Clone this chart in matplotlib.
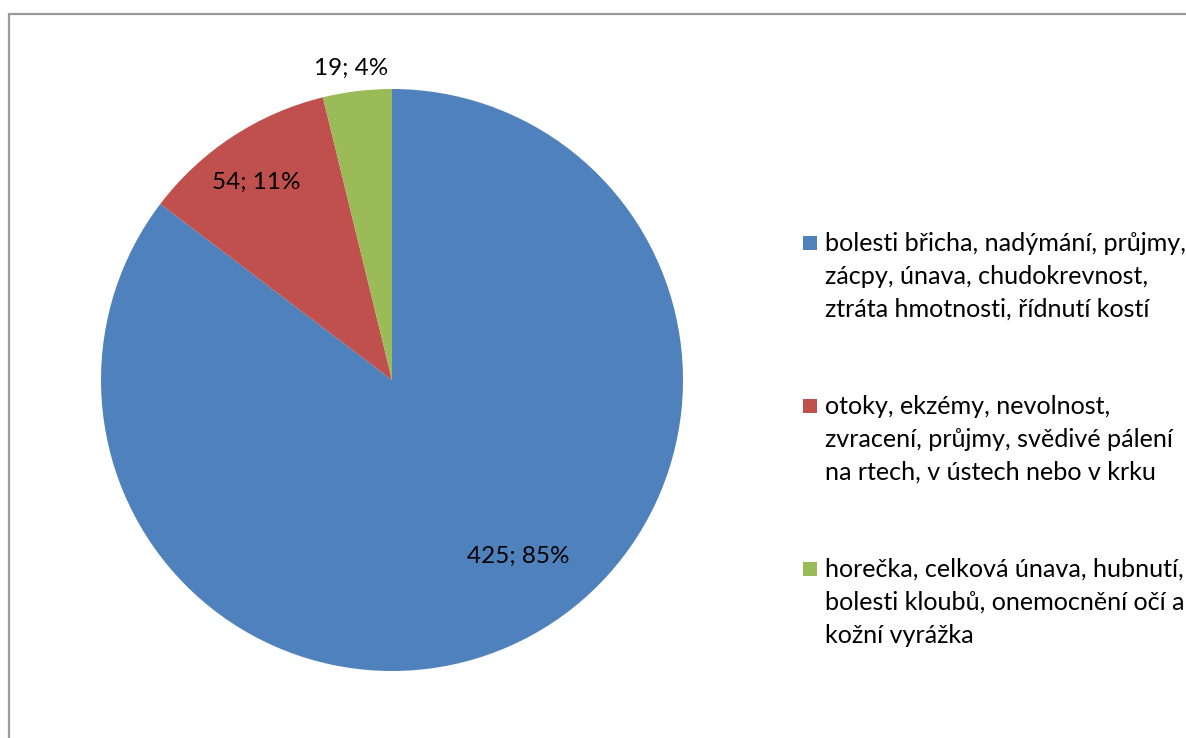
import matplotlib.pyplot as plt
from matplotlib.patches import Rectangle

plt.rcParams['font.family'] = ['Lato', 'DejaVu Sans']

# symptom groups and counts
labels = [
    "bolesti břicha, nadýmání, průjmy,\nzácpy, únava, chudokrevnost,\nztráta hmotnosti, řídnutí kostí",
    "otoky, ekzémy, nevolnost,\nzvracení, průjmy, svědivé pálení\nna rtech, v ústech nebo v krku",
    "horečka, celková únava, hubnutí,\nbolesti kloubů, onemocnění očí a\nkožní vyrážka",
]
counts = [425, 54, 19]
colors = ["#4F81BD", "#C0504D", "#9BBB59"]

# where the value labels sit (data coords, pie radius = 1)
label_pos = [(0.433, -0.605), (-0.467, 0.68), (-0.141, 1.072)]

W, H = 1186, 738
fig = plt.figure(figsize=(W / 100, H / 100), dpi=100)

cx, cy, r = 392, 380, 291
ax = fig.add_axes([(cx - r) / W, (H - cy - r) / H, 2 * r / W, 2 * r / H])
wedges, _ = ax.pie(counts, colors=colors, startangle=90, counterclock=False,
                   radius=1, wedgeprops=dict(linewidth=0))
ax.set_xlim(-1, 1)
ax.set_ylim(-1, 1)
ax.set_aspect('equal')
ax.axis('off')

total = sum(counts)
for c, (x, y) in zip(counts, label_pos):
    ax.text(x, y, "%d; %d%%" % (c, round(100.0 * c / total)),
            ha='center', va='center', fontsize=17.5, color='black', clip_on=False)

# legend drawn by hand so the marker sits on the first line
leg_x = 803
base0 = 251      # baseline of the first legend line, px from top
entry_step = 163
line_step = 33
sq = 14
for i, (lab, col) in enumerate(zip(labels, colors)):
    b = base0 + i * entry_step
    fig.patches.append(Rectangle((leg_x / W, 1 - (b - 1) / H), sq / W, sq / H,
                                 transform=fig.transFigure, facecolor=col,
                                 edgecolor='none'))
    for j, line in enumerate(lab.split("\n")):
        fig.text(825 / W, 1 - (b + j * line_step) / H, line, ha='left',
                 va='baseline', fontsize=18.1, color='black')

# chart area frame
fig.patches.append(Rectangle((8.5 / W, -0.05), 1.1, 1 - 14 / H + 0.05,
                             transform=fig.transFigure, facecolor='none',
                             edgecolor='#9a9a9a', linewidth=1.6))

fig.savefig("out.png", dpi=100)
